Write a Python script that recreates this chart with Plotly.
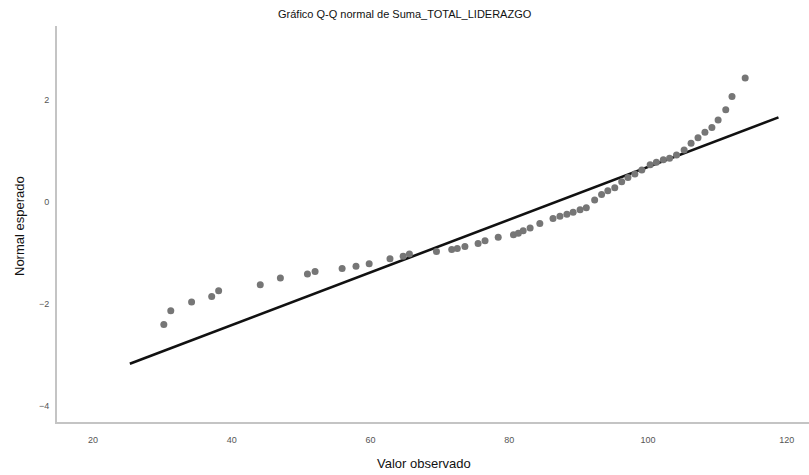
import plotly.graph_objects as go

# Observed values (x) and expected normal values (y)
observed = [30.2, 31.2, 34.2, 37.1, 38.1, 44.1, 47.0, 50.9, 52.0, 55.9, 57.9, 59.8,
            62.8, 64.7, 65.6, 69.5, 71.7, 72.5, 73.6, 75.5, 76.5, 78.4, 80.6, 81.3,
            82.0, 83.0, 84.4, 86.3, 87.3, 88.3, 89.2, 90.2, 91.1, 92.3, 93.3, 94.2,
            95.2, 96.2, 97.1, 98.1, 99.1, 100.3, 101.2, 102.2, 103.1, 104.1, 105.2,
            106.2, 107.2, 108.2, 109.2, 110.1, 111.2, 112.1, 114.0]
expected = [-2.41, -2.14, -1.97, -1.86, -1.75, -1.63, -1.50, -1.42, -1.37, -1.31, -1.27, -1.22,
            -1.12, -1.07, -1.03, -0.98, -0.94, -0.92, -0.88, -0.82, -0.77, -0.70, -0.65, -0.62,
            -0.57, -0.52, -0.43, -0.33, -0.29, -0.25, -0.21, -0.16, -0.12, 0.03, 0.14, 0.21,
            0.27, 0.39, 0.47, 0.54, 0.62, 0.72, 0.77, 0.82, 0.85, 0.91, 1.01,
            1.14, 1.25, 1.36, 1.45, 1.60, 1.80, 2.06, 2.42]

# Reference line endpoints
line_x = [25.3, 118.8]
line_y = [-3.18, 1.65]

x_ticks = [20, 40, 60, 80, 100, 120]
y_ticks = [-4, -2, 0, 2]

fig = go.Figure()
fig.add_trace(go.Scatter(x=line_x, y=line_y, mode="lines",
                         line=dict(color="#111111", width=2.6), hoverinfo="skip"))
fig.add_trace(go.Scatter(x=observed, y=expected, mode="markers",
                         marker=dict(color="#767676", size=7, line=dict(width=0))))

fig.update_layout(
    width=809, height=475,
    margin=dict(l=57, r=0, t=26, b=53),
    paper_bgcolor="white", plot_bgcolor="white",
    showlegend=False,
    font=dict(family="Liberation Sans, Arial, sans-serif", color="#333333"),
    xaxis=dict(range=[14.8, 123.2], tickvals=x_ticks, showgrid=False, zeroline=False,
               showline=True, linecolor="#c4c4c4", linewidth=2, ticklabelstandoff=8,
               ticks="", tickfont=dict(size=9, color="#555555")),
    yaxis=dict(range=[-4.32, 3.44], tickvals=y_ticks, showgrid=False, zeroline=False,
               showline=True, linecolor="#c4c4c4", linewidth=2, ticklabelstandoff=4,
               ticks="", tickfont=dict(size=9, color="#555555")),
    annotations=[
        dict(text="Gráfico Q-Q normal de Suma_TOTAL_LIDERAZGO", xref="paper", yref="paper",
             x=(405 - 57) / 752, y=1 + (26 - 14) / 396, xanchor="center", yanchor="middle",
             showarrow=False, font=dict(size=11, color="#111111")),
        dict(text="Valor observado", xref="paper", yref="paper",
             x=(424 - 57) / 752, y=-(463 - 422) / 396, xanchor="center", yanchor="middle",
             showarrow=False, font=dict(size=13, color="#111111")),
        dict(text="Normal esperado", xref="paper", yref="paper",
             x=-(57 - 20) / 752, y=(422 - 226) / 396, xanchor="center", yanchor="middle",
             textangle=-90, showarrow=False, font=dict(size=13, color="#111111")),
    ],
)

fig.write_html("out.html")
